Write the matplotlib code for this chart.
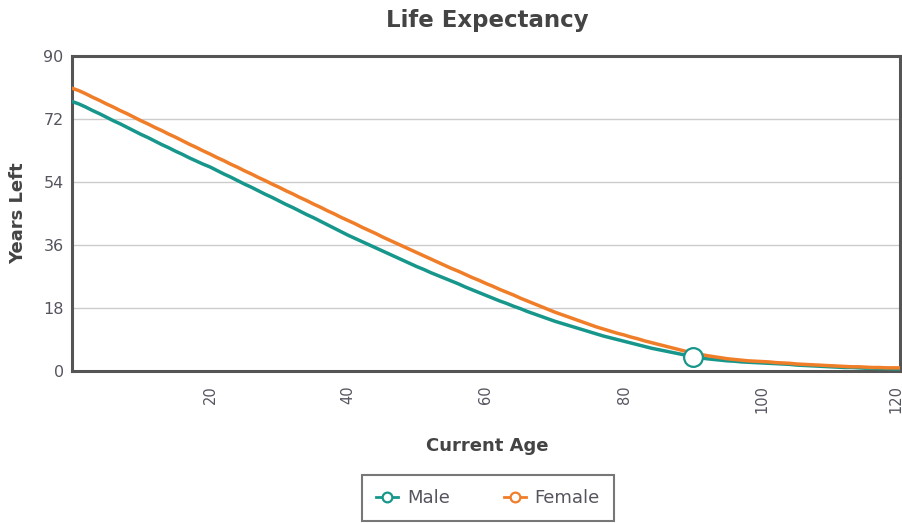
import matplotlib
matplotlib.use("Agg")
import matplotlib.pyplot as plt
from matplotlib.lines import Line2D
from matplotlib.transforms import ScaledTranslation

ages = list(range(0, 121))

male = [77.0, 76.3, 75.4, 74.4, 73.5, 72.5, 71.5, 70.6, 69.6, 68.6,
        67.6, 66.7, 65.7, 64.7, 63.8, 62.8, 61.9, 60.9, 60.0, 59.1,
        58.3, 57.3, 56.3, 55.4, 54.4, 53.4, 52.5, 51.5, 50.5, 49.6,
        48.6, 47.6, 46.7, 45.7, 44.7, 43.8, 42.8, 41.8, 40.8, 39.8,
        38.8, 37.9, 37.0, 36.1, 35.2, 34.3, 33.4, 32.5, 31.6, 30.7,
        29.8, 29.0, 28.1, 27.3, 26.5, 25.7, 24.9, 24.0, 23.2, 22.4,
        21.6, 20.8, 20.0, 19.3, 18.5, 17.8, 17.0, 16.3, 15.6, 14.9,
        14.2, 13.6, 13.0, 12.4, 11.8, 11.2, 10.6, 10.0, 9.5, 9.0,
        8.5, 8.0, 7.5, 7.0, 6.5, 6.1, 5.7, 5.3, 4.9, 4.5,
        4.1, 3.8, 3.5, 3.3, 3.1, 2.9, 2.8, 2.6, 2.5, 2.4,
        2.3, 2.2, 2.1, 2.0, 1.9, 1.7, 1.6, 1.5, 1.4, 1.3,
        1.2, 1.1, 1.0, 1.0, 0.9, 0.8, 0.8, 0.7, 0.7, 0.6,
        0.6]

female = [80.8, 80.1, 79.2, 78.2, 77.3, 76.3, 75.4, 74.4, 73.5, 72.5,
          71.5, 70.6, 69.6, 68.7, 67.7, 66.8, 65.8, 64.8, 63.9, 62.9,
          62.0, 61.0, 60.1, 59.1, 58.2, 57.2, 56.3, 55.3, 54.4, 53.4,
          52.5, 51.5, 50.6, 49.6, 48.7, 47.7, 46.8, 45.8, 44.9, 43.9,
          43.0, 42.1, 41.1, 40.2, 39.3, 38.3, 37.4, 36.5, 35.6, 34.7,
          33.8, 32.9, 32.0, 31.1, 30.2, 29.3, 28.5, 27.6, 26.7, 25.9,
          25.0, 24.2, 23.3, 22.5, 21.7, 20.8, 20.0, 19.2, 18.4, 17.6,
          16.8, 16.1, 15.4, 14.7, 14.0, 13.3, 12.6, 12.0, 11.4, 10.8,
          10.3, 9.7, 9.2, 8.6, 8.1, 7.6, 7.1, 6.6, 6.1, 5.6,
          5.2, 4.8, 4.4, 4.1, 3.8, 3.5, 3.3, 3.1, 2.9, 2.8,
          2.7, 2.6, 2.4, 2.3, 2.2, 2.0, 1.9, 1.8, 1.7, 1.6,
          1.5, 1.4, 1.3, 1.2, 1.2, 1.1, 1.0, 1.0, 0.9, 0.9,
          0.9]

highlight_age = 90
y_ticks = [0, 18, 36, 54, 72, 90]
x_ticks = [20, 40, 60, 80, 100, 120]

TEAL = "#17978b"
ORANGE = "#f07d28"
TXT = "#555560"

W, H = 902, 523
fig = plt.figure(figsize=(W / 100, H / 100), dpi=100)
ax = fig.add_axes([72 / W, 1 - 371 / H, (900 - 72) / W, (371 - 56) / H])

ax.plot(ages, male, color=TEAL, lw=2.5, solid_capstyle="round", zorder=3)
ax.plot(ages, female, color=ORANGE, lw=2.5, solid_capstyle="round", zorder=4)
ax.plot([highlight_age], [male[ages.index(highlight_age)]], marker="o", ms=13.5,
        mfc="white", mec=TEAL, mew=1.6, zorder=6)

ax.set_xlim(0, 120)
ax.set_ylim(0, 90)
ax.set_yticks(y_ticks)
ax.set_xticks(x_ticks)
ax.set_xticklabels([str(v) for v in x_ticks], rotation=90)
ax.tick_params(axis="x", length=0, labelsize=10.5, colors=TXT, pad=10)
ax.tick_params(axis="y", length=0, labelsize=11.5, colors=TXT, pad=6)
ax.grid(axis="y", color="#cccccc", lw=1)
ax.set_axisbelow(True)
for s in ax.spines.values():
    s.set_color("#555555")
    s.set_linewidth(2.2)

# keep the last x tick label inside the canvas
last = ax.get_xticklabels()[-1]
last.set_transform(last.get_transform() + ScaledTranslation(-4 / 100, 0, fig.dpi_scale_trans))

fig.text(487 / W, 1 - 20 / H, "Life Expectancy", ha="center", va="center",
         fontsize=16.5, fontweight="bold", color="#444444")
fig.text(487 / W, 1 - 446 / H, "Current Age", ha="center", va="center",
         fontsize=13, fontweight="bold", color="#444444")
fig.text(18 / W, 1 - 213 / H, "Years Left", ha="center", va="center",
         rotation=90, fontsize=13, fontweight="bold", color="#444444")

handles = [Line2D([0], [0], color=TEAL, lw=2, marker="o", ms=7, mfc="white", mec=TEAL, mew=1.6),
           Line2D([0], [0], color=ORANGE, lw=2, marker="o", ms=7, mfc="white", mec=ORANGE, mew=1.6)]
leg = fig.legend(handles, ["Male", "Female"], loc="center", bbox_to_anchor=(488 / W, 1 - 498 / H),
                 ncol=2, frameon=True, fancybox=False, fontsize=13, handlelength=1.2,
                 columnspacing=3.0, handletextpad=0.5, borderpad=0.8, labelcolor=TXT)
leg.get_frame().set_edgecolor("#555555")
leg.get_frame().set_linewidth(1.5)

fig.savefig("out.png", dpi=100)
